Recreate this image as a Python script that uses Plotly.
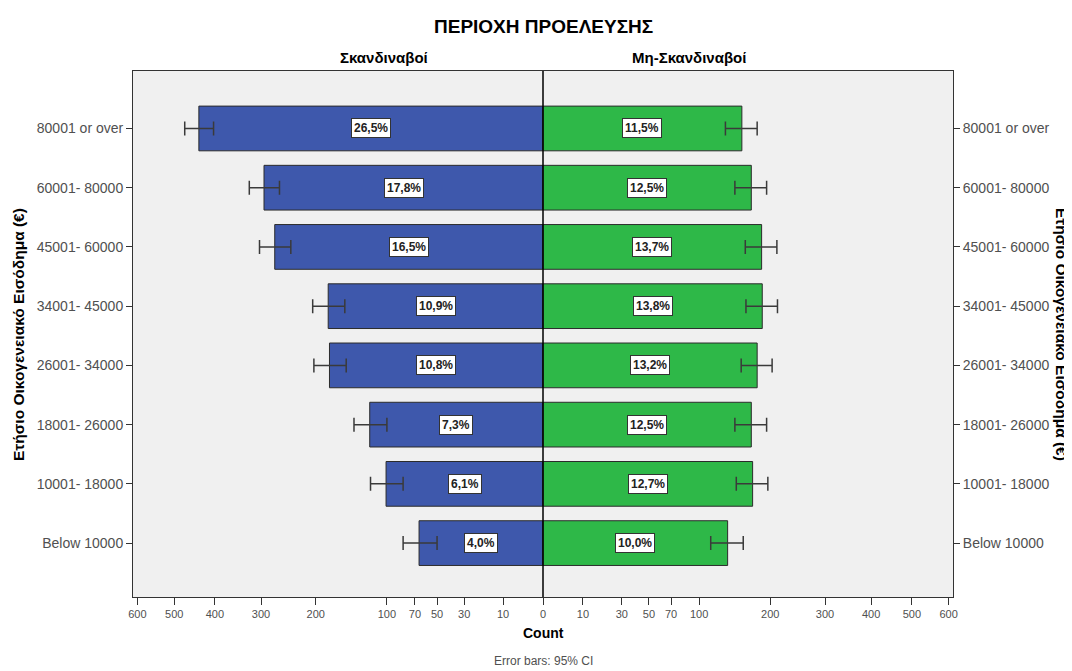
import numpy as np
import plotly.graph_objects as go

# ---------------- data ----------------
CATEGORIES = ["Below 10000", "10001- 18000", "18001- 26000", "26001- 34000",
              "34001- 45000", "45001- 60000", "60001- 80000", "80001 or over"]

SCAND_COUNT = [66, 101, 121, 178, 180, 273, 294, 438]
SCAND_PCT = [4.0, 6.1, 7.3, 10.8, 10.9, 16.5, 17.8, 26.5]
SCAND_CI_LOW = [50, 82, 100, 153, 155, 243, 264, 403]
SCAND_CI_HIGH = [82, 120, 142, 203, 205, 303, 324, 473]

NON_COUNT = [136, 172, 170, 179, 187, 186, 170, 156]
NON_PCT = [10.0, 12.7, 12.5, 13.2, 13.8, 13.7, 12.5, 11.5]
NON_CI_LOW = [114, 148, 146, 155, 162, 161, 146, 133]
NON_CI_HIGH = [158, 196, 194, 203, 212, 211, 194, 179]

TICK_VALUES = [0, 10, 30, 50, 70, 100, 200, 300, 400, 500, 600]

TITLE = "ΠΕΡΙΟΧΗ ΠΡΟΕΛΕΥΣΗΣ"
PANEL_LEFT = "Σκανδιναβοί"
PANEL_RIGHT = "Μη-Σκανδιναβοί"
Y_TITLE = "Ετήσιο Οικογενειακό Εισόδημα (€)"
X_TITLE = "Count"
FOOTNOTE = "Error bars: 95% CI"


# ---------------- scale (SPSS-like square-root count axis) ----------------
def scale(v):
    return np.sqrt(np.asarray(v, dtype=float) + 1.0) - 1.0


FONT = "Liberation Sans, Arial, sans-serif"
BLUE = "rgb(62,88,172)"
GREEN = "rgb(46,184,72)"
EDGE = "#2b2b2b"
TXT = "#505050"

s_len = scale(SCAND_COUNT)
s_lo = scale(SCAND_CI_LOW)
s_hi = scale(SCAND_CI_HIGH)
n_len = scale(NON_COUNT)
n_lo = scale(NON_CI_LOW)
n_hi = scale(NON_CI_HIGH)

fig = go.Figure()

fig.add_trace(go.Bar(
    orientation="h", y=CATEGORIES, x=-s_len, width=0.755,
    marker=dict(color=BLUE, line=dict(color=EDGE, width=1)),
    error_x=dict(type="data", symmetric=False,
                 array=s_len - s_lo, arrayminus=s_hi - s_len,
                 color="#3a3a3a", thickness=1.5, width=7),
    showlegend=False, hoverinfo="skip",
))
fig.add_trace(go.Bar(
    orientation="h", y=CATEGORIES, x=n_len, width=0.755, yaxis="y2",
    marker=dict(color=GREEN, line=dict(color=EDGE, width=1)),
    error_x=dict(type="data", symmetric=False,
                 array=n_hi - n_len, arrayminus=n_len - n_lo,
                 color="#3a3a3a", thickness=1.5, width=7),
    showlegend=False, hoverinfo="skip",
))

# percentage labels
ann = []
for cat, L, p in zip(CATEGORIES, s_len, SCAND_PCT):
    ann.append(dict(x=-L / 2, y=cat, xref="x", yref="y",
                    text=f"{p:.1f}%".replace(".", ","), showarrow=False,
                    font=dict(family=FONT, size=12, color="#222", weight="bold"),
                    bgcolor="white", bordercolor="#333", borderwidth=1, borderpad=2))
for cat, L, p in zip(CATEGORIES, n_len, NON_PCT):
    ann.append(dict(x=L / 2, y=cat, xref="x", yref="y",
                    text=f"{p:.1f}%".replace(".", ","), showarrow=False,
                    font=dict(family=FONT, size=12, color="#222", weight="bold"),
                    bgcolor="white", bordercolor="#333", borderwidth=1, borderpad=2))

PLOT_H = 526.0
PLOT_W = 820.0
ann += [
    dict(text=TITLE, x=0.5, y=1 + 44 / PLOT_H, xref="paper", yref="paper",
         showarrow=False, yanchor="middle",
         font=dict(family=FONT, size=19, color="black", weight="bold")),
    dict(text=PANEL_LEFT, x=0.25, y=1 + 13 / PLOT_H, xref="paper", yref="paper",
         showarrow=False, yanchor="middle",
         font=dict(family=FONT, size=15, color="black", weight="bold")),
    dict(text=PANEL_RIGHT, x=0.75, y=1 + 13 / PLOT_H, xref="paper", yref="paper",
         showarrow=False, yanchor="middle",
         font=dict(family=FONT, size=15, color="black", weight="bold")),
    dict(text=X_TITLE, x=0.5, y=-36 / PLOT_H, xref="paper", yref="paper",
         showarrow=False, yanchor="middle",
         font=dict(family=FONT, size=14, color="black", weight="bold")),
    dict(text=FOOTNOTE, x=0.5, y=-64 / PLOT_H, xref="paper", yref="paper",
         showarrow=False, yanchor="middle",
         font=dict(family=FONT, size=12, color=TXT)),
    dict(text=Y_TITLE, x=(18 - 133) / PLOT_W, y=0.5, xref="paper", yref="paper",
         showarrow=False, textangle=-90, xanchor="center", yanchor="middle",
         font=dict(family=FONT, size=15.5, color="black", weight="bold")),
    dict(text=Y_TITLE, x=(1062 - 133) / PLOT_W, y=0.5, xref="paper", yref="paper",
         showarrow=False, textangle=90, xanchor="center", yanchor="middle",
         font=dict(family=FONT, size=15.5, color="black", weight="bold")),
]

pos = [v for v in TICK_VALUES if v > 0]
tickvals = [-float(scale(v)) for v in reversed(pos)] + [0.0] + [float(scale(v)) for v in pos]
ticktext = [str(v) for v in reversed(pos)] + ["0"] + [str(v) for v in pos]

XMAX = float(scale(600)) * 410.0 / 405.6
YRANGE = [-0.91, 7.97]

fig.update_layout(
    width=1064, height=663,
    margin=dict(l=125, r=119, t=63, b=74),
    paper_bgcolor="white", plot_bgcolor="#f0f0f0",
    barmode="overlay", bargap=0.25,
    font=dict(family=FONT, color=TXT),
    annotations=ann,
    shapes=[dict(type="line", xref="x", yref="paper", x0=0, x1=0, y0=0, y1=1,
                 line=dict(color="black", width=1.5))],
    xaxis=dict(range=[-XMAX, XMAX], tickvals=tickvals, ticktext=ticktext,
               showgrid=False, zeroline=False, showline=True, mirror=True,
               linecolor="#333", linewidth=1, ticks="outside", ticklen=7,
               tickcolor="#333", tickfont=dict(family=FONT, size=11, color=TXT)),
    yaxis=dict(type="category", categoryorder="array", categoryarray=CATEGORIES,
               range=YRANGE, showgrid=False, zeroline=False, showline=True,
               linecolor="#333", linewidth=1, ticks="outside", ticklen=6,
               tickcolor="#333", tickfont=dict(family=FONT, size=14, color=TXT)),
    yaxis2=dict(type="category", categoryorder="array", categoryarray=CATEGORIES,
                range=YRANGE, overlaying="y", side="right", showgrid=False,
                zeroline=False, showline=True, linecolor="#333", linewidth=1,
                ticks="outside", ticklen=6, tickcolor="#333",
                tickfont=dict(family=FONT, size=14, color=TXT)),
)

fig.write_html("out.html")
